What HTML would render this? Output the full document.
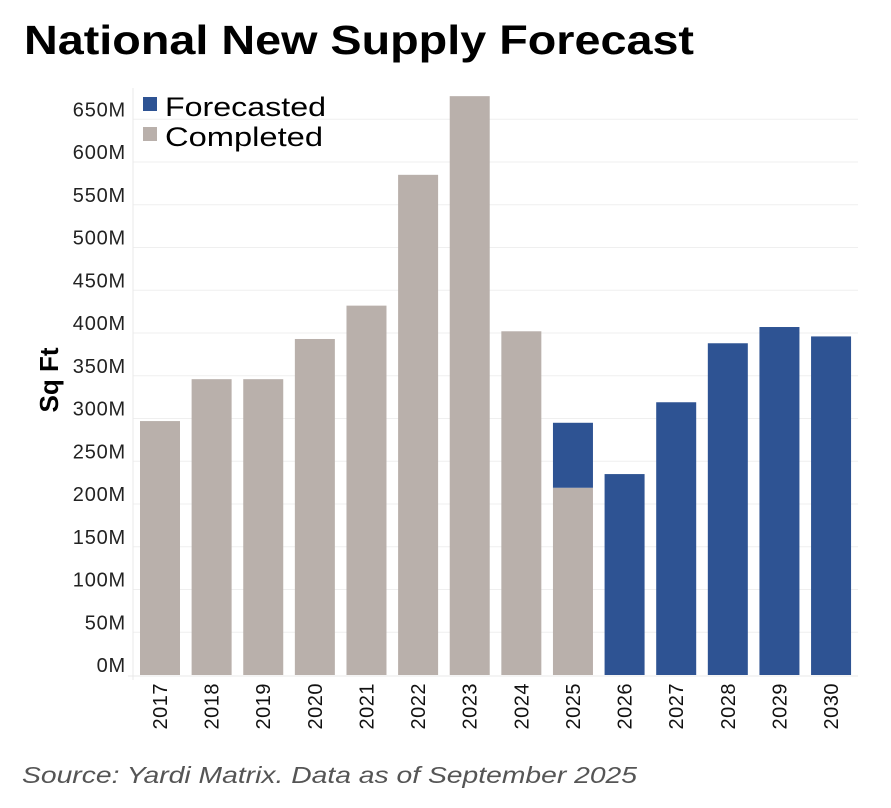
<!DOCTYPE html>
<html><head><meta charset="utf-8"><style>
body{margin:0;background:#fff;width:891px;height:803px;overflow:hidden;font-family:"Liberation Sans",sans-serif}
</style></head><body>
<svg width="891" height="803" xmlns="http://www.w3.org/2000/svg">
<text x="24" y="54" font-size="41" font-weight="bold" fill="#000" textLength="670" lengthAdjust="spacingAndGlyphs">National New Supply Forecast</text>
<text transform="translate(58,380) rotate(-90)" text-anchor="middle" font-size="26" font-weight="bold">Sq Ft</text>
<g id="grid"></g><g id="bars"></g><g id="xl"></g>
<line x1="133" y1="88" x2="133" y2="680" stroke="#e8e8e8"/>
<line x1="128" y1="676" x2="858" y2="676" stroke="#e8e8e8"/>
<rect x="143" y="97" width="14" height="14" fill="#2e5393"/>
<text x="165" y="116" font-size="27" textLength="161" lengthAdjust="spacingAndGlyphs">Forecasted</text>
<rect x="143" y="127" width="14" height="14" fill="#b9b0ab"/>
<text x="165" y="146" font-size="27" textLength="158" lengthAdjust="spacingAndGlyphs">Completed</text>
<text x="22" y="783" font-size="23" font-style="italic" fill="#555" textLength="615" lengthAdjust="spacingAndGlyphs">Source: Yardi Matrix. Data as of September 2025</text>
</svg>
<script>
const years=["2017","2018","2019","2020","2021","2022","2023","2024","2025","2026","2027","2028","2029","2030"];
const completed=[297,346,346,393,432,585,677,402,219,0,0,0,0,0];
const forecasted=[0,0,0,0,0,0,0,0,76,235,319,388,407,396];
const ticks=[0,50,100,150,200,250,300,350,400,450,500,550,600,650];
const NS="http://www.w3.org/2000/svg";
const y=v=>675-v*0.855;
const x=i=>140+i*51.62;
function mk(t,a,p){const e=document.createElementNS(NS,t);for(const k in a)e.setAttribute(k,a[k]);p.appendChild(e);return e;}
const g=document.getElementById('grid'),b=document.getElementById('bars'),xl=document.getElementById('xl');
ticks.forEach(v=>{
 if(v>0){const l=mk('line',{x1:133,x2:858,y1:y(v),y2:y(v),stroke:'#efefef'},g);
 
 }
 const t=mk('text',{x:126,y:y(v)-3,'text-anchor':'end','font-size':20,'letter-spacing':'0.8',fill:'#222'},g);
 t.textContent=v+'M';
 
 
});
years.forEach((yr,i)=>{
 if(completed[i]>0){const r=mk('rect',{x:x(i),width:40,y:y(completed[i]),height:675-y(completed[i]),fill:'#b9b0ab'},b);
 
 }
 if(forecasted[i]>0){const base=completed[i],top=base+forecasted[i];
 const r=mk('rect',{x:x(i),width:40,y:y(top),height:y(base)-y(top),fill:'#2e5393'},b);
 
 }
 const t=mk('text',{transform:`translate(${x(i)+27},683) rotate(-90)`,'text-anchor':'end','font-size':20,'letter-spacing':'0.5',fill:'#111'},xl);
 t.textContent=yr;
 
 
});
</script>
</body></html>
